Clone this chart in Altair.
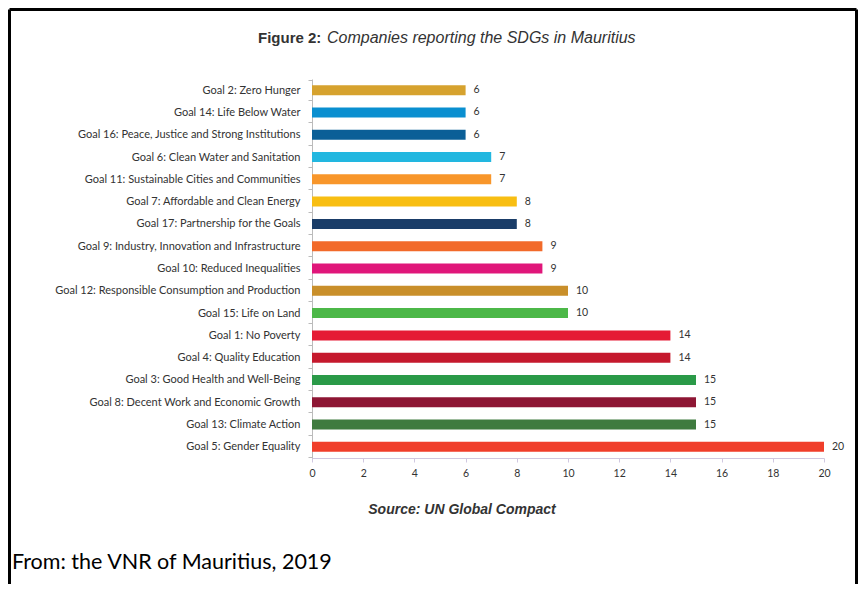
import altair as alt
import pandas as pd

goals = [
    "Goal 2: Zero Hunger",
    "Goal 14: Life Below Water",
    "Goal 16: Peace, Justice and Strong Institutions",
    "Goal 6: Clean Water and Sanitation",
    "Goal 11: Sustainable Cities and Communities",
    "Goal 7: Affordable and Clean Energy",
    "Goal 17: Partnership for the Goals",
    "Goal 9: Industry, Innovation and Infrastructure",
    "Goal 10: Reduced Inequalities",
    "Goal 12: Responsible Consumption and Production",
    "Goal 15: Life on Land",
    "Goal 1: No Poverty",
    "Goal 4: Quality Education",
    "Goal 3: Good Health and Well-Being",
    "Goal 8: Decent Work and Economic Growth",
    "Goal 13: Climate Action",
    "Goal 5: Gender Equality",
]
values = [6, 6, 6, 7, 7, 8, 8, 9, 9, 10, 10, 14, 14, 15, 15, 15, 20]
colors = [
    "#D6A22E", "#0A8FD0", "#0B5F97", "#22B7E0", "#F8962A", "#F8BE12",
    "#1A3D68", "#F26A2A", "#E0167A", "#C98F2A", "#4CB848", "#E51B35",
    "#C5192D", "#2A9A48", "#8E1634", "#3F7B3F", "#F03E2A",
]

title_bold = "Figure 2:"
title_italic = "Companies reporting the SDGs in Mauritius"
source_text = "Source:  UN Global Compact"
footer_text = "From: the VNR of Mauritius, 2019"

df = pd.DataFrame({"goal": goals, "value": values, "color": colors})

base = alt.Chart(df)

y_enc = alt.Y(
    "goal:N",
    sort=goals,
    title=None,
    axis=alt.Axis(
        labelFont="Lato",
        labelFontSize=11,
        labelColor="#333333",
        labelPadding=8,
        tickBand="extent",
        tickSize=4,
        tickColor="#bbbbbb",
        domainColor="#bbbbbb",
        labelLimit=400,
    ),
)
x_enc = alt.X(
    "value:Q",
    title=None,
    scale=alt.Scale(domain=[0, 20], nice=False),
    axis=alt.Axis(
        values=list(range(0, 21, 2)),
        labelFont="Lato",
        labelFontSize=10.5,
        labelColor="#333333",
        labelPadding=6,
        labelFlush=False,
        tickSize=4,
        tickColor="#d0c8e0",
        domainColor="#d0c8e0",
        grid=False,
    ),
)

bars = base.mark_bar(size=10).encode(
    x=x_enc,
    y=y_enc,
    color=alt.Color("color:N", scale=None, legend=None),
)

labels = base.mark_text(
    align="left", baseline="middle", dx=8, font="Lato", fontSize=10.5, color="#333333"
).encode(x="value:Q", y=alt.Y("goal:N", sort=goals), text="value:Q")


def txt(text, x, y, **kw):
    return alt.Chart(pd.DataFrame({"t": [text]})).mark_text(**kw).encode(
        x=alt.value(x), y=alt.value(y), text="t:N"
    )


t1 = txt(title_bold, -54, -41, align="left", baseline="middle", font="Liberation Sans",
         fontSize=15, fontWeight="bold", color="#333333")
t2 = txt(title_italic, 15, -41, align="left", baseline="middle", font="Liberation Sans",
         fontSize=16, fontStyle="italic", color="#333333")
src = txt(source_text, 150, 431, align="center", baseline="middle", font="Liberation Sans",
          fontSize=14, fontStyle="italic", fontWeight="bold", color="#333333")
foot = txt(footer_text, -300, 484, align="left", baseline="middle", font="Lato",
           fontSize=21.5, color="#000000")

border_left = alt.Chart(pd.DataFrame({"a": [0]})).mark_rule(color="black", strokeWidth=3).encode(
    x=alt.value(-302.5), y=alt.value(-69.5), y2=alt.value(520)
)
border_top = alt.Chart(pd.DataFrame({"a": [0]})).mark_rule(color="black", strokeWidth=3).encode(
    x=alt.value(-302.5), x2=alt.value(544.5), y=alt.value(-69.5)
)
border_right = alt.Chart(pd.DataFrame({"a": [0]})).mark_rule(color="black", strokeWidth=3).encode(
    x=alt.value(544.5), y=alt.value(-69.5), y2=alt.value(520)
)

chart = alt.layer(bars, labels, t1, t2, src, foot, border_left, border_top, border_right).properties(
    width=512,
    height=379,
    autosize=alt.AutoSizeParams(type="none"),
    padding={"left": 304, "top": 71, "right": 34, "bottom": 126},
).configure_view(stroke=None)

chart.save("out.html", embed_options={"renderer": "svg", "actions": False})
